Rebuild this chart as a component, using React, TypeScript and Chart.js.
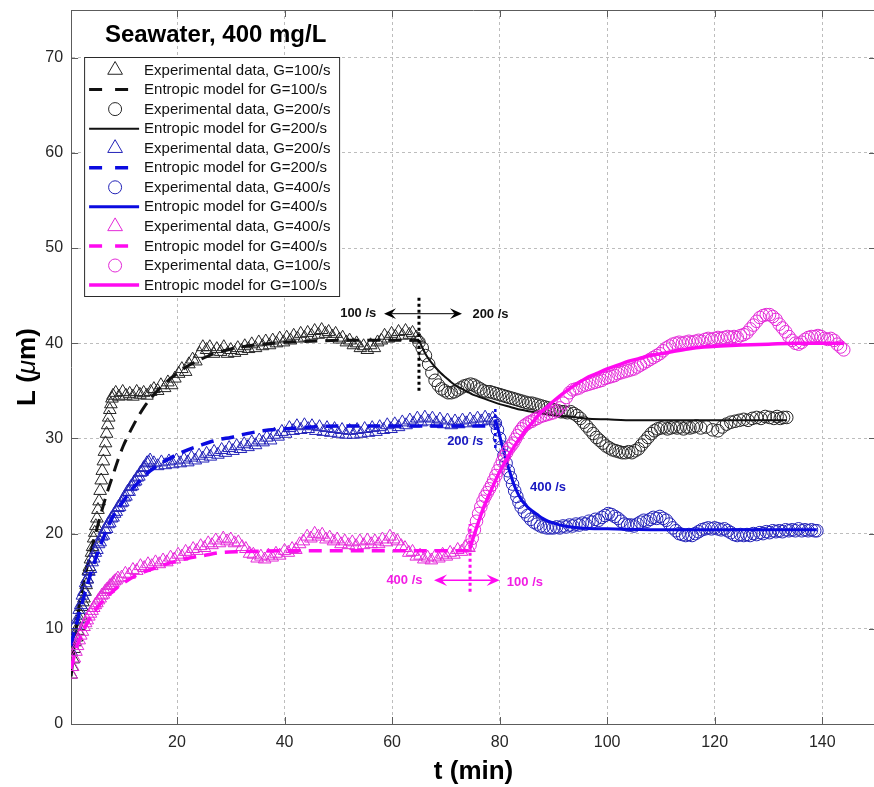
import React, { useEffect, useRef } from 'react';
import { Chart, registerables } from 'chart.js';

Chart.register(...registerables);

type Pt = [number, number];

// ---- axes ----
const T_MIN = 0.3;
const T_MAX = 150;
const L_MIN = 0;
const L_MAX = 75;
const X_TICKS = [20, 40, 60, 80, 100, 120, 140];
const Y_TICKS = [0, 10, 20, 30, 40, 50, 60, 70];

const FONT = '"Liberation Sans", Arial, Helvetica, sans-serif';
const BLACK = '#111111';
const BLACK_MK = '#262626';
const BLUE = '#0b0be0';
const BLUE_MK = '#2323b8';
const PINK = '#ff0af0';
const PINK_MK = '#e42ad8';
const GRID = '#bdbdbd';
const AXIS = '#5c5c5c';
const TICK_TXT = '#262626';

// ---- G = 100/s phase (0-65 min), black ----
const expTri100: Pt[] = [
  [0.3, 5.2], [0.5, 6.0], [0.7, 6.8], [0.9, 7.9], [1.1, 8.6], [1.3, 9.1], [1.5, 9.8], [1.7, 10.3],
  [1.9, 11.0], [2.1, 11.4], [2.3, 12.3], [2.5, 12.8], [2.7, 13.2], [2.9, 13.9], [3.1, 14.6], [3.3, 15.2],
  [3.5, 16.1], [3.7, 16.5], [3.9, 17.3], [4.1, 18.0], [4.3, 18.6], [4.5, 19.5], [4.7, 20.1], [4.9, 20.8],
  [5.1, 21.6], [5.3, 22.5], [5.5, 23.4], [5.7, 24.5], [5.9, 25.6], [6.1, 26.6], [6.3, 27.6], [6.5, 28.6],
  [6.7, 29.5], [6.9, 30.5], [7.1, 31.4], [7.3, 32.2], [7.5, 33.0], [7.7, 33.6], [7.9, 34.2], [8.1, 34.5],
  [8.6, 34.8], [9.2, 34.4], [9.9, 34.9], [10.5, 34.5], [11.2, 34.7], [11.8, 34.4], [12.5, 34.9], [13.1, 34.6],
  [13.8, 34.8], [14.4, 34.5], [15.1, 34.9], [15.7, 35.2], [16.4, 35.0], [17.0, 35.6], [17.7, 35.3], [18.3, 35.9],
  [19.0, 35.6], [19.6, 36.3], [20.3, 36.8], [20.9, 37.3], [21.6, 37.0], [22.2, 37.8], [22.9, 38.3], [23.5, 38.1],
  [24.2, 38.9], [24.8, 39.6], [25.5, 39.3], [26.1, 39.6], [26.8, 38.9], [27.4, 39.4], [28.1, 39.1], [28.7, 39.6],
  [29.4, 38.9], [30.0, 39.3], [30.7, 39.0], [31.3, 39.5], [32.0, 39.2], [32.6, 39.7], [33.3, 39.4], [33.9, 39.9],
  [34.6, 39.5], [35.2, 40.1], [35.9, 39.7], [36.5, 40.2], [37.2, 39.8], [37.8, 40.3], [38.5, 40.0], [39.1, 40.5],
  [39.8, 40.1], [40.4, 40.6], [41.1, 40.3], [41.7, 40.8], [42.4, 40.5], [43.0, 41.0], [43.7, 40.6], [44.3, 41.1],
  [45.0, 40.8], [45.6, 41.3], [46.3, 40.9], [46.9, 41.4], [47.6, 41.0], [48.2, 41.2], [48.9, 40.7], [49.5, 41.0],
  [50.2, 40.4], [50.8, 40.6], [51.5, 40.1], [52.1, 40.3], [52.8, 39.8], [53.4, 40.0], [54.1, 39.5], [54.7, 39.7],
  [55.4, 39.3], [56.0, 39.8], [56.7, 39.5], [57.3, 40.1], [58.0, 40.3], [58.6, 40.8], [59.3, 40.5], [59.9, 41.0],
  [60.6, 40.7], [61.2, 41.2], [61.9, 40.8], [62.5, 41.3], [63.2, 40.9], [63.8, 41.1], [64.5, 40.6], [65.0, 40.4],
];

const model100: Pt[] = [
  [0.3, 5.0], [0.8, 7.8], [1.3, 10.2], [1.8, 12.3], [2.5, 14.5], [3.2, 16.3], [4.0, 18.1], [5.0, 20.3],
  [6.0, 22.4], [7.0, 24.3], [8.0, 26.0], [9.0, 27.7], [10.0, 29.2], [11.0, 30.4], [12.0, 31.5], [13.0, 32.5],
  [14.0, 33.4], [15.0, 34.1], [16.0, 34.8], [17.0, 35.4], [18.0, 35.9], [19.0, 36.4], [20.0, 36.8], [22.0, 37.6],
  [24.0, 38.2], [26.0, 38.7], [28.0, 39.1], [30.0, 39.4], [33.0, 39.7], [36.0, 39.9], [40.0, 40.1], [45.0, 40.2],
  [50.0, 40.3], [55.0, 40.3], [60.0, 40.3], [65.0, 40.3],
];

// ---- G = 200/s phase after 65 min, black ----
const expCirc200: Pt[] = [
  [65.0, 40.1], [65.6, 39.5], [66.2, 38.7], [66.8, 37.8], [67.4, 36.9], [68.0, 36.1], [68.6, 35.6], [69.2, 35.2],
  [69.8, 35.0], [70.4, 34.8], [71.0, 34.8], [71.6, 34.9], [72.2, 35.1], [72.8, 35.3], [73.4, 35.5], [74.0, 35.6],
  [74.6, 35.7], [75.2, 35.6], [75.8, 35.4], [76.4, 35.2], [77.0, 35.0], [77.6, 34.9], [78.2, 34.9], [78.8, 34.8],
  [79.4, 34.7], [80.0, 34.6], [80.6, 34.5], [81.2, 34.4], [81.8, 34.3], [82.4, 34.2], [83.0, 34.1], [83.6, 34.0],
  [84.2, 33.9], [84.8, 33.8], [85.4, 33.7], [86.0, 33.7], [86.6, 33.6], [87.2, 33.5], [87.8, 33.4], [88.4, 33.3],
  [89.0, 33.2], [89.6, 33.1], [90.2, 33.0], [90.8, 32.9], [91.4, 32.8], [92.0, 32.8], [92.6, 32.7], [93.2, 32.8],
  [93.8, 32.6], [94.4, 32.4], [95.0, 32.1], [95.6, 31.7], [96.2, 31.3], [96.8, 30.9], [97.4, 30.5], [98.0, 30.1],
  [98.6, 29.8], [99.2, 29.5], [99.8, 29.2], [100.4, 29.0], [101.0, 28.8], [101.6, 28.7], [102.2, 28.6], [102.8, 28.5],
  [103.4, 28.5], [104.0, 28.6], [104.6, 28.5], [105.2, 28.7], [105.8, 28.9], [106.4, 29.3], [107.0, 29.7], [107.6, 30.1],
  [108.2, 30.5], [108.8, 30.8], [109.4, 31.0], [110.0, 31.1], [110.6, 31.2], [111.2, 31.0], [111.8, 31.1], [112.4, 31.2],
  [113.0, 31.1], [113.6, 31.2], [114.2, 31.0], [114.8, 31.2], [115.4, 31.1], [116.0, 31.2], [116.6, 31.3], [117.4, 31.1],
  [118.4, 31.2], [119.6, 30.9], [120.6, 30.8], [121.4, 31.2], [122.2, 31.5], [123.0, 31.7], [123.8, 31.8], [124.6, 31.9],
  [125.4, 32.0], [126.2, 31.9], [127.0, 32.1], [127.8, 32.2], [128.6, 32.1], [129.4, 32.3], [130.2, 32.2], [131.0, 32.1],
  [131.6, 32.3], [132.2, 32.1], [132.8, 32.2], [133.4, 32.2],
];

const model200After100: Pt[] = [
  [65.0, 40.3], [65.5, 39.7], [66.0, 39.1], [66.5, 38.6], [67.0, 38.2], [68.0, 37.5], [69.0, 36.9], [70.0, 36.4],
  [71.0, 35.9], [72.0, 35.5], [73.0, 35.2], [74.0, 34.9], [75.0, 34.6], [76.0, 34.4], [77.0, 34.2], [78.0, 34.0],
  [80.0, 33.6], [82.0, 33.3], [84.0, 33.0], [86.0, 32.8], [88.0, 32.6], [90.0, 32.4], [93.0, 32.3], [96.0, 32.1],
  [100.0, 32.0], [105.0, 31.9], [115.0, 31.9], [125.0, 31.9], [133.4, 31.9],
];

// ---- G = 200/s phase (0-79 min), blue ----
const expTri200: Pt[] = [
  [0.3, 7.6], [0.6, 8.6], [0.9, 9.3], [1.2, 10.4], [1.5, 11.0], [1.8, 12.0], [2.1, 12.5], [2.4, 13.5],
  [2.7, 13.9], [3.0, 14.8], [3.3, 15.2], [3.6, 16.0], [3.9, 16.3], [4.2, 17.0], [4.5, 17.4], [4.8, 18.0],
  [5.1, 18.3], [5.4, 18.9], [5.7, 19.1], [6.0, 19.7], [6.3, 19.8], [6.6, 20.4], [6.9, 20.5], [7.2, 21.0],
  [7.5, 21.1], [7.8, 21.6], [8.1, 21.7], [8.4, 22.1], [8.7, 22.3], [9.0, 22.7], [9.3, 22.8], [9.6, 23.2],
  [9.9, 23.3], [10.2, 23.8], [10.5, 23.9], [10.8, 24.4], [11.1, 24.4], [11.4, 24.9], [11.7, 25.0], [12.0, 25.4],
  [12.3, 25.5], [12.6, 25.9], [12.9, 26.0], [13.2, 26.4], [13.5, 26.5], [13.8, 26.9], [14.1, 27.0], [14.4, 27.4],
  [14.7, 27.5], [15.0, 27.7], [15.7, 27.4], [16.4, 27.1], [17.1, 27.5], [17.8, 27.2], [18.5, 27.6], [19.2, 27.3],
  [19.9, 27.7], [20.6, 27.4], [21.3, 27.8], [22.0, 27.5], [22.7, 28.0], [23.4, 27.7], [24.1, 28.2], [24.8, 27.9],
  [25.5, 28.4], [26.2, 28.1], [26.9, 28.6], [27.6, 28.3], [28.3, 28.8], [29.0, 28.5], [29.7, 29.0], [30.4, 28.7],
  [31.1, 29.2], [31.8, 28.9], [32.5, 29.4], [33.2, 29.1], [33.9, 29.6], [34.6, 29.3], [35.3, 29.8], [36.0, 29.6],
  [36.7, 30.1], [37.4, 29.8], [38.1, 30.4], [38.8, 30.2], [39.5, 30.7], [40.2, 30.5], [40.9, 31.1], [41.6, 30.8],
  [42.3, 31.3], [43.0, 30.9], [43.7, 31.4], [44.4, 31.0], [45.1, 31.3], [45.8, 30.8], [46.5, 31.2], [47.2, 30.7],
  [47.9, 31.1], [48.6, 30.6], [49.3, 31.0], [50.0, 30.5], [50.7, 30.9], [51.4, 30.4], [52.1, 30.8], [52.8, 30.4],
  [53.5, 30.9], [54.2, 30.5], [54.9, 31.0], [55.6, 30.6], [56.3, 31.1], [57.0, 30.7], [57.7, 31.2], [58.4, 30.9],
  [59.1, 31.4], [59.8, 31.0], [60.5, 31.5], [61.2, 31.2], [61.9, 31.7], [62.6, 31.4], [63.3, 31.9], [64.0, 31.6],
  [64.7, 32.1], [65.4, 31.7], [66.1, 32.2], [66.8, 31.8], [67.5, 32.1], [68.2, 31.6], [68.9, 32.0], [69.6, 31.5],
  [70.3, 31.9], [71.0, 31.4], [71.7, 31.8], [72.4, 31.5], [73.1, 31.9], [73.8, 31.6], [74.5, 32.0], [75.2, 31.7],
  [75.9, 32.1], [76.6, 31.8], [77.3, 32.2], [78.0, 31.9], [78.7, 32.1], [79.2, 31.8],
];

const model200: Pt[] = [
  [0.3, 8.3], [1.0, 9.9], [2.0, 12.0], [3.0, 14.0], [4.0, 15.9], [5.0, 17.6], [6.0, 19.1], [7.0, 20.5],
  [8.0, 21.7], [9.0, 22.6], [10.0, 23.4], [11.0, 24.2], [12.0, 24.9], [13.0, 25.5], [14.0, 26.1], [15.0, 26.6],
  [16.0, 27.0], [17.0, 27.4], [18.0, 27.7], [20.0, 28.3], [22.0, 28.8], [24.0, 29.2], [26.0, 29.6], [28.0, 29.9],
  [30.0, 30.1], [33.0, 30.5], [36.0, 30.8], [40.0, 31.0], [45.0, 31.2], [50.0, 31.3], [60.0, 31.3], [70.0, 31.3],
  [79.2, 31.3],
];

// ---- G = 400/s phase after 79 min, blue ----
const expCirc400: Pt[] = [
  [79.2, 31.6], [79.6, 30.9], [80.0, 30.0], [80.4, 29.1], [80.8, 28.2], [81.2, 27.4], [81.6, 26.6], [82.0, 25.9],
  [82.4, 25.2], [82.8, 24.5], [83.2, 23.9], [83.6, 23.3], [84.0, 22.8], [84.6, 22.3], [85.2, 21.9], [85.8, 21.5],
  [86.4, 21.2], [87.0, 21.0], [87.6, 20.8], [88.2, 20.7], [88.8, 20.6], [89.4, 20.6], [90.0, 20.6], [90.6, 20.7],
  [91.2, 20.6], [91.8, 20.8], [92.4, 20.7], [93.0, 20.9], [93.6, 20.8], [94.2, 21.0], [94.8, 20.9], [95.4, 21.1],
  [96.0, 21.0], [96.6, 21.3], [97.2, 21.2], [97.8, 21.5], [98.4, 21.4], [99.0, 21.7], [99.6, 21.9], [100.2, 22.1],
  [100.8, 22.0], [101.4, 21.8], [102.0, 21.6], [102.6, 21.3], [103.2, 21.0], [103.8, 20.9], [104.4, 20.9], [105.0, 20.8],
  [105.6, 21.0], [106.2, 21.2], [106.8, 21.4], [107.4, 21.3], [108.0, 21.5], [108.6, 21.7], [109.2, 21.6], [109.8, 21.8],
  [110.4, 21.6], [111.0, 21.4], [111.6, 21.0], [112.2, 20.6], [112.8, 20.3], [113.4, 20.0], [114.0, 19.9], [114.6, 19.8],
  [115.2, 19.9], [115.8, 19.8], [116.4, 20.0], [117.0, 20.2], [117.6, 20.4], [118.2, 20.5], [118.8, 20.6], [119.4, 20.5],
  [120.0, 20.6], [120.6, 20.5], [121.2, 20.4], [121.8, 20.5], [122.4, 20.3], [123.0, 20.1], [123.6, 19.9], [124.2, 19.8],
  [124.8, 19.9], [125.4, 19.8], [126.0, 19.9], [126.6, 19.8], [127.2, 20.0], [127.8, 19.9], [128.4, 20.1], [129.0, 20.0],
  [129.6, 20.2], [130.2, 20.1], [130.8, 20.3], [131.4, 20.2], [132.0, 20.3], [132.6, 20.2], [133.2, 20.4], [133.8, 20.3],
  [134.4, 20.4], [135.0, 20.3], [135.6, 20.5], [136.2, 20.3], [136.8, 20.4], [137.4, 20.3], [138.0, 20.4], [138.6, 20.3],
  [139.0, 20.3],
];

const model400After200: Pt[] = [
  [79.2, 32.0], [79.6, 31.2], [80.0, 30.3], [80.5, 29.2], [81.0, 28.2], [81.5, 27.2], [82.0, 26.3], [82.5, 25.4],
  [83.0, 24.7], [83.5, 24.1], [84.0, 23.6], [84.5, 23.2], [85.0, 22.9], [86.0, 22.4], [87.0, 22.0], [88.0, 21.6],
  [89.0, 21.3], [90.0, 21.1], [92.0, 20.8], [95.0, 20.6], [100.0, 20.5], [110.0, 20.4], [120.0, 20.4], [130.0, 20.4],
  [139.0, 20.4],
];

// ---- G = 400/s phase (0-74.5 min), magenta ----
const expTri400: Pt[] = [
  [0.3, 5.2], [0.6, 6.0], [0.9, 6.9], [1.2, 7.6], [1.5, 8.2], [1.8, 8.8], [2.1, 9.3], [2.4, 9.7],
  [2.7, 10.2], [3.0, 10.6], [3.3, 10.9], [3.6, 11.3], [3.9, 11.6], [4.2, 11.9], [4.5, 12.2], [4.8, 12.5],
  [5.1, 12.7], [5.4, 13.0], [5.7, 13.2], [6.0, 13.5], [6.3, 13.6], [6.6, 13.9], [6.9, 14.1], [7.2, 14.2],
  [7.5, 14.5], [7.8, 14.6], [8.1, 14.8], [8.4, 15.0], [8.7, 15.1], [9.0, 15.3], [9.7, 15.4], [10.4, 15.8],
  [11.1, 15.7], [11.8, 16.2], [12.5, 16.1], [13.2, 16.6], [13.9, 16.4], [14.6, 16.8], [15.3, 16.6], [16.0, 17.0],
  [16.7, 16.8], [17.4, 17.2], [18.1, 17.0], [18.8, 17.5], [19.5, 17.3], [20.2, 17.8], [20.9, 17.6], [21.6, 18.1],
  [22.3, 17.9], [23.0, 18.4], [23.7, 18.2], [24.4, 18.7], [25.1, 18.5], [25.8, 19.0], [26.5, 18.8], [27.2, 19.3],
  [27.9, 19.0], [28.6, 19.5], [29.3, 19.2], [30.0, 19.4], [30.7, 19.0], [31.4, 19.1], [32.1, 18.6], [32.8, 18.4],
  [33.5, 17.9], [34.2, 17.8], [34.9, 17.4], [35.6, 17.6], [36.3, 17.3], [37.0, 17.7], [37.7, 17.5], [38.4, 17.9],
  [39.1, 17.7], [40.0, 18.2], [40.7, 18.0], [41.4, 18.4], [42.1, 18.3], [42.8, 18.9], [43.5, 19.2], [44.2, 19.7],
  [44.9, 19.5], [45.6, 20.0], [46.3, 19.7], [47.0, 19.9], [47.7, 19.4], [48.4, 19.6], [49.1, 19.2], [49.8, 19.4],
  [50.5, 18.9], [51.2, 19.2], [51.9, 18.8], [52.6, 19.1], [53.3, 18.7], [54.0, 19.2], [54.7, 18.8], [55.4, 19.3],
  [56.1, 18.9], [56.8, 19.2], [57.5, 18.9], [58.2, 19.4], [58.9, 19.1], [59.6, 19.7], [60.3, 19.4], [61.0, 19.2],
  [61.7, 18.7], [62.4, 18.5], [63.1, 18.0], [63.8, 18.1], [64.5, 17.6], [65.2, 17.7], [65.9, 17.3], [66.6, 17.5],
  [67.3, 17.2], [68.0, 17.6], [68.7, 17.4], [69.4, 17.8], [70.1, 17.6], [70.8, 18.0], [71.5, 17.8], [72.2, 18.3],
  [72.9, 18.1], [73.6, 18.6], [74.3, 18.5],
];

const model400: Pt[] = [
  [0.3, 5.8], [1.0, 7.4], [2.0, 9.1], [3.0, 10.3], [4.0, 11.3], [5.0, 12.1], [6.0, 12.8], [7.0, 13.4],
  [8.0, 13.9], [9.0, 14.4], [10.0, 14.8], [12.0, 15.5], [14.0, 16.0], [16.0, 16.4], [18.0, 16.8], [20.0, 17.1],
  [22.0, 17.4], [25.0, 17.7], [28.0, 18.0], [32.0, 18.1], [40.0, 18.2], [50.0, 18.2], [60.0, 18.2], [74.5, 18.2],
];

// ---- G = 100/s phase after 74.5 min, magenta ----
const expCirc100: Pt[] = [
  [74.5, 18.8], [74.9, 19.5], [75.3, 20.4], [75.7, 21.3], [76.1, 22.1], [76.5, 22.8], [76.9, 23.4], [77.3, 23.9],
  [77.7, 24.3], [78.1, 24.7], [78.5, 25.1], [78.9, 25.6], [79.3, 26.1], [79.7, 26.6], [80.1, 27.1], [80.5, 27.6],
  [80.9, 28.1], [81.3, 28.5], [81.7, 28.9], [82.1, 29.2], [82.5, 29.5], [82.9, 29.9], [83.3, 30.3], [83.7, 30.7],
  [84.1, 31.0], [84.5, 31.3], [85.0, 31.5], [85.5, 31.7], [86.0, 31.8], [86.5, 32.0], [87.0, 32.1], [87.6, 32.3],
  [88.2, 32.4], [88.8, 32.5], [89.4, 32.6], [90.0, 32.7], [90.6, 32.9], [91.2, 33.2], [91.8, 33.7], [92.4, 34.3],
  [93.0, 34.8], [93.6, 35.1], [94.2, 35.2], [94.8, 35.3], [95.4, 35.5], [96.0, 35.6], [96.6, 35.7], [97.2, 35.8],
  [97.8, 35.9], [98.4, 36.0], [99.0, 36.1], [99.6, 36.3], [100.2, 36.4], [100.8, 36.5], [101.4, 36.6], [102.0, 36.8],
  [102.6, 36.9], [103.2, 37.0], [103.8, 37.1], [104.4, 37.2], [105.0, 37.3], [105.6, 37.5], [106.2, 37.7], [106.8, 37.9],
  [107.4, 38.1], [108.0, 38.3], [108.6, 38.5], [109.2, 38.7], [109.8, 38.9], [110.4, 39.2], [111.0, 39.5], [111.6, 39.7],
  [112.2, 39.9], [112.8, 40.0], [113.4, 40.1], [114.0, 40.0], [114.6, 40.1], [115.2, 40.2], [115.8, 40.1], [116.4, 40.2],
  [117.0, 40.3], [117.6, 40.2], [118.2, 40.4], [118.8, 40.5], [119.4, 40.4], [120.0, 40.5], [120.6, 40.6], [121.2, 40.5],
  [121.8, 40.6], [122.4, 40.7], [123.0, 40.6], [123.6, 40.7], [124.2, 40.6], [124.8, 40.8], [125.4, 40.9], [126.0, 41.1],
  [126.6, 41.5], [127.2, 41.9], [127.8, 42.3], [128.4, 42.7], [129.0, 42.9], [129.6, 43.0], [130.2, 43.0], [130.8, 42.8],
  [131.4, 42.5], [132.0, 42.0], [132.6, 41.6], [133.2, 41.2], [133.8, 40.7], [134.4, 40.3], [135.0, 40.0], [135.6, 39.9],
  [136.2, 40.1], [136.8, 40.4], [137.4, 40.6], [138.0, 40.7], [138.6, 40.7], [139.2, 40.8], [139.8, 40.7], [140.4, 40.5],
  [141.0, 40.4], [141.6, 40.5], [142.2, 40.3], [142.8, 39.9], [143.4, 39.6], [144.0, 39.3],
];

const model100After400: Pt[] = [
  [74.5, 18.5], [75.0, 19.4], [76.0, 21.1], [77.0, 22.7], [78.0, 24.0], [79.0, 25.3], [80.0, 26.5], [81.0, 27.5],
  [82.0, 28.5], [83.0, 29.4], [84.0, 30.2], [85.0, 31.0], [86.0, 31.6], [87.0, 32.3], [88.0, 32.9], [89.0, 33.4],
  [90.0, 33.9], [92.0, 34.8], [94.0, 35.6], [96.0, 36.3], [98.0, 36.8], [100.0, 37.3], [102.0, 37.7], [104.0, 38.1],
  [106.0, 38.4], [108.0, 38.7], [110.0, 38.9], [112.0, 39.1], [115.0, 39.4], [118.0, 39.6], [121.0, 39.7], [125.0, 39.8],
  [130.0, 39.9], [135.0, 40.0], [140.0, 40.0], [144.0, 40.0],
];

// ---- shear-rate switch markers (t in min, L in µm) ----
const switchBlack: Pt[] = [[65.0, 35.0], [65.0, 45.0]];
const switchBlue: Pt[] = [[79.2, 29.0], [79.2, 33.2]];
const switchPink: Pt[] = [[74.5, 13.9], [74.5, 21.0]];

const ARROWS = [
  { L: 43.1, from: 58.5, to: 73.0, color: '#000000', width: 1, head: 12 },
  { L: 15.1, from: 67.8, to: 80.0, color: PINK, width: 1.5, head: 13 },
];

const RATE_LABELS = [
  { text: '100 /s', t: 53.7, L: 43.1, color: '#111111' },
  { text: '200 /s', t: 78.3, L: 43.0, color: '#111111' },
  { text: '200 /s', t: 73.6, L: 29.7, color: '#1717c0' },
  { text: '400 /s', t: 89.0, L: 24.8, color: '#1717c0' },
  { text: '400 /s', t: 62.3, L: 15.1, color: '#f21ee4' },
  { text: '100 /s', t: 84.7, L: 14.9, color: '#f21ee4' },
];

const PANEL_TITLE = 'Seawater, 400 mg/L';

const toXY = (pts: Pt[]) => pts.map(([x, y]) => ({ x, y }));

const markers = (label: string, pts: Pt[], color: string, style: 'triangle' | 'circle', order: number) => ({
  label,
  data: toXY(pts),
  showLine: false,
  pointStyle: style,
  pointRadius: style === 'triangle' ? 7.3 : 6.3,
  pointBorderWidth: 1,
  pointBorderColor: color,
  pointBackgroundColor: 'rgba(0,0,0,0)',
  borderColor: color,
  backgroundColor: 'rgba(0,0,0,0)',
  order,
});

const curve = (label: string, pts: Pt[], color: string, width: number, dash: number[], order: number) => ({
  label,
  data: toXY(pts),
  showLine: true,
  pointRadius: 0,
  borderColor: color,
  backgroundColor: color,
  borderWidth: width,
  borderDash: dash,
  cubicInterpolationMode: 'monotone',
  fill: false,
  order,
});

const guide = (pts: Pt[], color: string, width: number) => ({
  label: '',
  data: toXY(pts),
  showLine: true,
  pointRadius: 0,
  borderColor: color,
  borderWidth: width,
  borderDash: [3, 3],
  borderCapStyle: 'butt',
  fill: false,
  order: -1,
});

const DASH = [13, 8];

// 12 legend entries, drawn in this order; later series sit on top
const series = [
  markers('Experimental data, G=100/s', expTri100, BLACK_MK, 'triangle', 12),
  curve('Entropic model for G=100/s', model100, BLACK, 3, DASH, 11),
  markers('Experimental data, G=200/s', expCirc200, BLACK_MK, 'circle', 10),
  curve('Entropic model for G=200/s', model200After100, BLACK, 2, [], 9),
  markers('Experimental data, G=200/s', expTri200, BLUE_MK, 'triangle', 8),
  curve('Entropic model for G=200/s', model200, BLUE, 3.5, DASH, 7),
  markers('Experimental data, G=400/s', expCirc400, BLUE_MK, 'circle', 6),
  curve('Entropic model for G=400/s', model400After200, BLUE, 3, [], 5),
  markers('Experimental data, G=400/s', expTri400, PINK_MK, 'triangle', 4),
  curve('Entropic model for G=400/s', model400, PINK, 3.5, DASH, 3),
  markers('Experimental data, G=100/s', expCirc100, PINK_MK, 'circle', 2),
  curve('Entropic model for G=100/s', model100After400, PINK, 3.5, [], 1),
];
const LEGEND_COUNT = series.length;

function arrowHead(ctx: CanvasRenderingContext2D, x: number, y: number, dir: number, len: number, color: string) {
  const half = len * 0.45;
  ctx.beginPath();
  ctx.moveTo(x, y);
  ctx.lineTo(x - dir * len, y - half);
  ctx.lineTo(x - dir * len * 0.62, y);
  ctx.lineTo(x - dir * len, y + half);
  ctx.closePath();
  ctx.fillStyle = color;
  ctx.fill();
}

// box, inward tick marks on all four sides
const framePlugin = {
  id: 'frame',
  afterDatasetsDraw(chart: any) {
    const { ctx, chartArea: a, scales } = chart;
    ctx.save();
    ctx.strokeStyle = AXIS;
    ctx.lineWidth = 1;
    ctx.beginPath();
    ctx.moveTo(a.left, a.top + 0.5);
    ctx.lineTo(a.right, a.top + 0.5);
    ctx.moveTo(a.right - 0.5, a.top);
    ctx.lineTo(a.right - 0.5, a.bottom);
    const tl = 7;
    X_TICKS.forEach((v) => {
      const x = Math.round(scales.x.getPixelForValue(v)) + 0.5;
      ctx.moveTo(x, a.bottom);
      ctx.lineTo(x, a.bottom - tl);
      ctx.moveTo(x, a.top);
      ctx.lineTo(x, a.top + tl);
    });
    Y_TICKS.forEach((v) => {
      if (v === L_MIN) return;
      const y = Math.round(scales.y.getPixelForValue(v)) + 0.5;
      ctx.moveTo(a.left, y);
      ctx.lineTo(a.left + tl, y);
      ctx.moveTo(a.right, y);
      ctx.lineTo(a.right - tl, y);
    });
    ctx.stroke();
    ctx.restore();
  },
};

// switch arrows, shear-rate labels, panel title, legend, y-axis title
const notesPlugin = {
  id: 'notes',
  afterDatasetsDraw(chart: any) {
    const { ctx, chartArea: a, scales } = chart;
    const sx = (t: number) => scales.x.getPixelForValue(t);
    const sy = (L: number) => scales.y.getPixelForValue(L);
    ctx.save();

    ARROWS.forEach((ar) => {
      const x0 = sx(ar.from);
      const x1 = sx(ar.to);
      const y = sy(ar.L);
      ctx.strokeStyle = ar.color;
      ctx.lineWidth = ar.width;
      ctx.beginPath();
      ctx.moveTo(x0 + ar.head * 0.6, y);
      ctx.lineTo(x1 - ar.head * 0.6, y);
      ctx.stroke();
      arrowHead(ctx, x0, y, -1, ar.head, ar.color);
      arrowHead(ctx, x1, y, 1, ar.head, ar.color);
    });

    ctx.font = `bold 13px ${FONT}`;
    ctx.textAlign = 'center';
    ctx.textBaseline = 'middle';
    RATE_LABELS.forEach((lb) => {
      ctx.fillStyle = lb.color;
      ctx.fillText(lb.text, sx(lb.t), sy(lb.L));
    });

    // panel title
    ctx.font = `bold 24px ${FONT}`;
    ctx.fillStyle = '#000';
    ctx.fillText(PANEL_TITLE, a.left + 144.5, a.top + 25);

    // legend box
    const bx = a.left + 13;
    const by = a.top + 47;
    const bw = 255;
    const bh = 239;
    ctx.fillStyle = '#fff';
    ctx.fillRect(bx, by, bw, bh);
    ctx.strokeStyle = '#2a2a2a';
    ctx.lineWidth = 1;
    ctx.strokeRect(bx + 0.5, by + 0.5, bw, bh);

    const rowStep = 19.55;
    const datasets = chart.data.datasets.slice(0, LEGEND_COUNT);
    datasets.forEach((ds: any, i: number) => {
      const cy = by + 13 + i * rowStep;
      if (ds.showLine) {
        ctx.save();
        ctx.strokeStyle = ds.borderColor;
        ctx.lineWidth = ds.borderWidth;
        ctx.setLineDash(ds.borderDash && ds.borderDash.length ? [13, 13] : []);
        ctx.beginPath();
        ctx.moveTo(bx + 5, cy);
        ctx.lineTo(bx + 55, cy);
        ctx.stroke();
        ctx.restore();
      } else {
        const mx = bx + 31;
        ctx.strokeStyle = ds.pointBorderColor;
        ctx.lineWidth = 1;
        ctx.beginPath();
        if (ds.pointStyle === 'triangle') {
          const r = 8.5;
          ctx.moveTo(mx, cy - r);
          ctx.lineTo(mx + r * 0.866, cy + r * 0.5);
          ctx.lineTo(mx - r * 0.866, cy + r * 0.5);
          ctx.closePath();
        } else {
          ctx.arc(mx, cy, 6.5, 0, Math.PI * 2);
        }
        ctx.stroke();
      }
      ctx.fillStyle = '#111';
      ctx.font = `15px ${FONT}`;
      ctx.textAlign = 'left';
      ctx.textBaseline = 'middle';
      ctx.fillText(ds.label, bx + 60, cy + 0.5);
    });

    ctx.restore();
  },
  afterDraw(chart: any) {
    const { ctx, chartArea: a } = chart;
    // y-axis title with an italic mu
    const parts = [
      { text: 'L (', font: `bold 26px ${FONT}` },
      { text: 'μ', font: `italic 26px ${FONT}` },
      { text: 'm)', font: `bold 26px ${FONT}` },
    ];
    ctx.save();
    let total = 0;
    const widths = parts.map((p) => {
      ctx.font = p.font;
      const w = ctx.measureText(p.text).width;
      total += w;
      return w;
    });
    ctx.translate(28, (a.top + a.bottom) / 2);
    ctx.rotate(-Math.PI / 2);
    ctx.fillStyle = '#000';
    ctx.textBaseline = 'middle';
    ctx.textAlign = 'left';
    let x = -total / 2;
    parts.forEach((p, i) => {
      ctx.font = p.font;
      ctx.fillText(p.text, x, 0);
      x += widths[i];
    });
    ctx.restore();
  },
};

export default function App() {
  const canvasRef = useRef<HTMLCanvasElement | null>(null);

  useEffect(() => {
    const canvas = canvasRef.current;
    if (!canvas) return;
    const chart = new Chart(canvas, {
      type: 'scatter',
      data: {
        datasets: [
          ...series,
          guide(switchBlack, '#000000', 3),
          guide(switchBlue, BLUE, 2.5),
          guide(switchPink, PINK, 3),
        ] as any,
      },
      options: {
        animation: false,
        responsive: false,
        events: [],
        layout: { autoPadding: false, padding: { top: 10, right: 4, left: 0, bottom: 0 } },
        plugins: {
          legend: { display: false },
          tooltip: { enabled: false },
          title: { display: false },
        },
        scales: {
          x: {
            type: 'linear',
            min: T_MIN,
            max: T_MAX,
            afterBuildTicks: (s: any) => {
              s.ticks = X_TICKS.map((value) => ({ value }));
            },
            afterFit: (s: any) => {
              s.height = 63;
              s.paddingLeft = 0;
              s.paddingRight = 0;
            },
            grid: { color: GRID, lineWidth: 1, drawTicks: false },
            border: { display: true, color: AXIS, width: 1, dash: [3, 3] },
            ticks: {
              color: TICK_TXT,
              font: { family: FONT, size: 16 },
              padding: 9,
              maxRotation: 0,
              autoSkip: false,
            },
            title: {
              display: true,
              text: 't (min)',
              color: '#000',
              font: { family: FONT, size: 26, weight: 'bold', lineHeight: 1 },
              padding: { top: 0, bottom: 2 },
            },
          },
          y: {
            type: 'linear',
            min: L_MIN,
            max: L_MAX,
            afterBuildTicks: (s: any) => {
              s.ticks = Y_TICKS.map((value) => ({ value }));
            },
            afterFit: (s: any) => {
              s.width = 71.1;
              s.paddingTop = 0;
              s.paddingBottom = 0;
            },
            grid: { color: GRID, lineWidth: 1, drawTicks: false },
            border: { display: true, color: AXIS, width: 1, dash: [3, 3] },
            ticks: {
              color: TICK_TXT,
              font: { family: FONT, size: 16 },
              padding: 8,
            },
          },
        },
      } as any,
      plugins: [framePlugin, notesPlugin],
    });
    return () => chart.destroy();
  }, []);

  return (
    <div
      style={{
        position: 'absolute',
        left: 0,
        top: 0,
        width: 874,
        height: 787,
        overflow: 'hidden',
        background: '#ffffff',
      }}
    >
      <canvas ref={canvasRef} width={880} height={787} style={{ display: 'block', width: 880, height: 787 }} />
    </div>
  );
}
